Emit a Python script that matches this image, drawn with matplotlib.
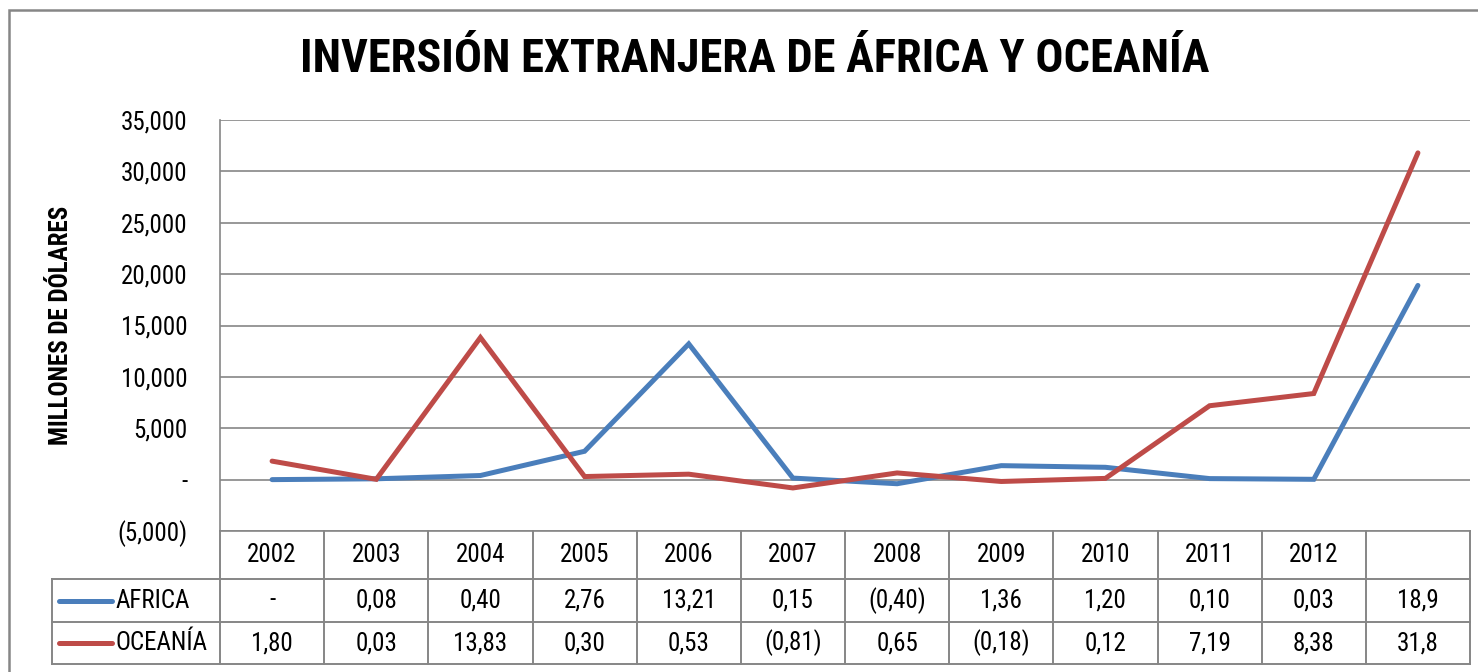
import matplotlib
matplotlib.use('Agg')
import matplotlib.pyplot as plt
from matplotlib.lines import Line2D
from matplotlib.patches import Rectangle
from matplotlib.ticker import FuncFormatter

plt.rcParams['font.family'] = ['Roboto Condensed', 'DejaVu Sans']

# datos (millones de dólares)
years = ['2002', '2003', '2004', '2005', '2006', '2007', '2008', '2009', '2010', '2011', '2012', '']
africa = [0, 80, 400, 2760, 13210, 150, -400, 1360, 1200, 100, 30, 18900]
oceania = [1800, 30, 13830, 300, 530, -810, 650, -180, 120, 7190, 8380, 31800]
series_names = ['AFRICA', 'OCEANÍA']
colors = ['#4A7EBB', '#BE4B48']
grid_col = '#868686'


def fmt_tick(v, pos=None):
    if v == 0:
        return '-'
    if v < 0:
        return '({:,.0f})'.format(-v)
    return '{:,.0f}'.format(v)


def fmt_cell(v, last=False):
    if v == 0:
        return '-'
    s = ('{:.1f}' if last else '{:.2f}').format(abs(v) / 1000).replace('.', ',')
    return '(' + s + ')' if v < 0 else s


W, H = 1478, 672
fig = plt.figure(figsize=(W / 100, H / 100), dpi=100)

# marco exterior
fig.patches.append(Rectangle((9 / W, -0.1), 1.2, (H - 10) / H + 0.1, transform=fig.transFigure,
                             fill=False, edgecolor=grid_col, lw=1.8))

L, R, T, B = 220, 1470, 120, 531
ax = fig.add_axes([L / W, 1 - B / H, (R - L) / W, (B - T) / H])

n = len(years)
x = list(range(n))
ax.plot(x, africa, color=colors[0], lw=3.6, solid_capstyle='round', solid_joinstyle='miter')
ax.plot(x, oceania, color=colors[1], lw=3.6, solid_capstyle='round', solid_joinstyle='miter')

ax.set_xlim(-0.5, n - 0.5)
ax.set_ylim(-5000, 35000)
ax.set_yticks(range(-5000, 35001, 5000))
ax.yaxis.set_major_formatter(FuncFormatter(fmt_tick))
ax.set_xticks([])
ax.tick_params(axis='y', length=0, labelsize=18, pad=23.5)
ax.grid(axis='y', color=grid_col, lw=1.2)
ax.set_axisbelow(True)
for s in ['top', 'right']:
    ax.spines[s].set_visible(False)
for s in ['left', 'bottom']:
    ax.spines[s].set_color(grid_col)
    ax.spines[s].set_linewidth(1.2)

ax.set_ylabel('MILLONES DE DÓLARES', fontsize=18, fontweight='bold', labelpad=32)
fig.text(755 / W, 1 - 59 / H, 'INVERSIÓN EXTRANJERA DE ÁFRICA Y OCEANÍA',
         ha='center', va='center', fontsize=33.5, fontweight='bold')

# tabla de datos bajo el eje
ah = B - T
aw = R - L
rows_y = [0, -(579 - B) / ah, -(622 - B) / ah, -(664 - B) / ah]
leg_x = -(L - 52) / aw
tr = ax.transAxes
kw = dict(transform=tr, color=grid_col, lw=1.4, clip_on=False)

for i in range(n + 1):
    xx = i / n
    ax.add_line(Line2D([xx, xx], [rows_y[0], rows_y[3]], **kw))
ax.add_line(Line2D([leg_x, leg_x], [rows_y[1], rows_y[3]], **kw))
for yy in rows_y[1:]:
    ax.add_line(Line2D([leg_x, 1], [yy, yy], **kw))

for i, yr in enumerate(years):
    ax.text((i + 0.5) / n, (rows_y[0] + rows_y[1]) / 2, yr, transform=tr,
            ha='center', va='center', fontsize=18)

for r, vals in enumerate([africa, oceania]):
    yc = (rows_y[r + 1] + rows_y[r + 2]) / 2
    for i, v in enumerate(vals):
        ax.text((i + 0.5) / n, yc, fmt_cell(v, last=(i == n - 1)), transform=tr,
                ha='center', va='center', fontsize=18)
    sx0 = leg_x + 7 / aw
    sx1 = leg_x + 60 / aw
    ax.add_line(Line2D([sx0, sx1], [yc, yc], transform=tr, color=colors[r], lw=3.6,
                       solid_capstyle='round', clip_on=False))
    ax.text(sx1 + 4 / aw, yc, series_names[r], transform=tr, ha='left', va='center', fontsize=18)

fig.savefig('out.png', dpi=100)
